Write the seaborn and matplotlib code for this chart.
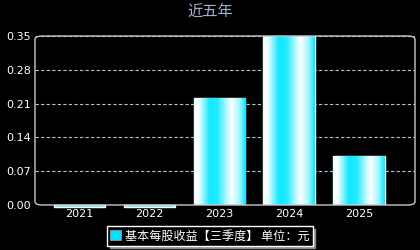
import matplotlib
matplotlib.use("Agg")
import matplotlib.pyplot as plt
import seaborn as sns
import numpy as np
import pandas as pd
from matplotlib.colors import LinearSegmentedColormap
from matplotlib.patches import FancyBboxPatch, Patch

years = ["2021", "2022", "2023", "2024", "2025"]
eps = [-0.004, -0.004, 0.222, 0.350, 0.101]
yticks = [0.00, 0.07, 0.14, 0.21, 0.28, 0.35]
title = "近五年"
legend_label = "基本每股收益【三季度】 单位：元"

sns.set_theme(style="dark")
plt.rcParams['font.family'] = ['Noto Sans CJK SC', 'DejaVu Sans']
plt.rcParams['axes.unicode_minus'] = False

fig = plt.figure(figsize=(4.2, 2.5), dpi=100, facecolor="black")
ax = fig.add_axes([35/420, 45/250, 380/420, 169/250])
ax.set_facecolor("black")

df = pd.DataFrame({"year": years, "eps": eps})
sns.barplot(data=df, x="year", y="eps", ax=ax, color="#00e5ff", width=0.73,
            saturation=1, zorder=3)

cmap = LinearSegmentedColormap.from_list("bar", [
    (0.0, "#e8ffff"), (0.08, "#ffffff"), (0.30, "#14e8ff"), (0.45, "#20eaff"),
    (0.72, "#ffffff"), (0.88, "#9ff6ff"), (1.0, "#08e4ff")])
grad = np.linspace(0, 1, 256).reshape(1, -1)
for p in ax.patches:
    x, y, w, h = p.get_x(), p.get_y(), p.get_width(), p.get_height()
    if h < 0.01:
        p.set_clip_on(False)
        p.set_facecolor("#18dcf0")
        continue
    im = ax.imshow(grad, cmap=cmap, aspect="auto", extent=[x, x + w, y, y + h],
                   zorder=4, interpolation="bilinear")
    im.set_clip_path(p)

ax.set_xlim(-0.63, 4.80)
ax.set_ylim(0, 0.35)
ax.set_yticks(yticks)
ax.set_yticklabels([f"{v:.2f}" for v in yticks])
ax.set_xlabel("")
ax.set_ylabel("")
ax.tick_params(colors="white", labelsize=8, length=0, pad=3)
for lab in ax.get_xticklabels() + ax.get_yticklabels():
    lab.set_color("white")
    lab.set_family("DejaVu Sans")
ax.yaxis.grid(True, color="#a9c6d8", linestyle=(0, (3, 2)), linewidth=0.8, zorder=1)
ax.xaxis.grid(False)
for s in ax.spines.values():
    s.set_visible(False)

frame = FancyBboxPatch((0, 0), 1, 1, boxstyle="round,pad=0,rounding_size=0.02",
                       transform=ax.transAxes, fill=False, edgecolor="#c8c8c8",
                       linewidth=1.0, zorder=5, clip_on=False)
ax.add_patch(frame)

fig.text(0.5, 1 - 12/250, title, ha="center", va="center", color="#9fb5d5", fontsize=11)

handle = Patch(facecolor="#00e5ff", edgecolor="#a0a0a0", linewidth=0.5)
leg = fig.legend([handle], [legend_label], loc="center", bbox_to_anchor=(210/420, 1 - 236/250),
                 frameon=True, fontsize=8.7, handlelength=0.9, handleheight=0.9,
                 handletextpad=0.3, borderpad=0.25, fancybox=False,
                 shadow={"color": "#8a8a8a", "alpha": 1.0})
leg.get_frame().set_facecolor("black")
leg.get_frame().set_edgecolor("white")
leg.get_frame().set_linewidth(1.0)
for t in leg.get_texts():
    t.set_color("white")

fig.savefig("out.png", dpi=100, facecolor="black")
